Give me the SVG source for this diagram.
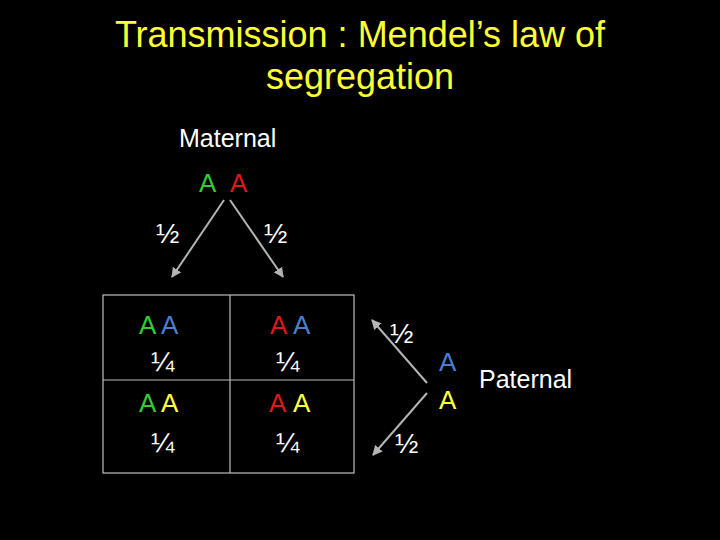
<svg xmlns="http://www.w3.org/2000/svg" width="720" height="540" viewBox="0 0 720 540">
<style>
text{font-family:"Liberation Sans",Arial,sans-serif}
.title{fill:#ffff33;font-size:36px;text-anchor:middle}
.lbl{fill:#ffffff;font-size:25px}
.frac{fill:#ffffff;font-size:28px}
.al{font-size:26px}
.g{fill:#33cc33}.r{fill:#dd1a1a}.b{fill:#4a7fd0}.y{fill:#ffff44}
.conn{stroke:#b4b4b4;stroke-width:2;fill:none;marker-end:url(#ah)}
.grid{stroke:#bdbdbd;stroke-width:1.2;fill:none}
</style>
<defs>
<marker id="ah" viewBox="0 0 10 10" refX="9" refY="5" markerWidth="5" markerHeight="5" orient="auto" markerUnits="strokeWidth">
<path d="M0,0 L10,5 L0,10 z" fill="#b4b4b4"/>
</marker>
</defs>
<rect width="720" height="540" fill="#000"/>
<g id="title">
<text class="title" x="360" y="47">Transmission : Mendel’s law of</text>
<text class="title" x="360" y="89">segregation</text>
</g>
<g id="maternal">
<text class="lbl" x="179" y="147">Maternal</text>
<text class="al g" x="199" y="192">A</text>
<text class="al r" x="230" y="192">A</text>
</g>
<g id="paternal">
<text class="al b" x="439" y="371">A</text>
<text class="al y" x="439" y="409">A</text>
<text class="lbl" x="479" y="388">Paternal</text>
</g>
<g id="punnett">
<rect class="grid" x="103" y="295" width="251" height="178"/>
<line class="grid" x1="230" y1="295" x2="230" y2="473"/>
<line class="grid" x1="103" y1="380" x2="354" y2="380"/>
</g>
<g id="cell-tl">
<text class="al g" x="139" y="334">A</text><text class="al b" x="161" y="334">A</text>
<text class="frac" x="151" y="371">¼</text>
</g>
<g id="cell-tr">
<text class="al r" x="270" y="334">A</text><text class="al b" x="293" y="334">A</text>
<text class="frac" x="276" y="371">¼</text>
</g>
<g id="cell-bl">
<text class="al g" x="139" y="412">A</text><text class="al y" x="161" y="412">A</text>
<text class="frac" x="151" y="452">¼</text>
</g>
<g id="cell-br">
<text class="al r" x="269" y="412">A</text><text class="al y" x="293" y="412">A</text>
<text class="frac" x="276" y="452">¼</text>
</g>
<g id="connectors">
<line class="conn" x1="224" y1="200" x2="172" y2="277"/>
<line class="conn" x1="230" y1="200" x2="283" y2="277"/>
<line class="conn" x1="427" y1="383" x2="372" y2="320"/>
<line class="conn" x1="427" y1="393" x2="373" y2="455"/>
</g>
<g id="fractions">
<text class="frac" x="156" y="243">½</text>
<text class="frac" x="264" y="243">½</text>
<text class="frac" x="390" y="343">½</text>
<text class="frac" x="395" y="453">½</text>
</g>
</svg>
